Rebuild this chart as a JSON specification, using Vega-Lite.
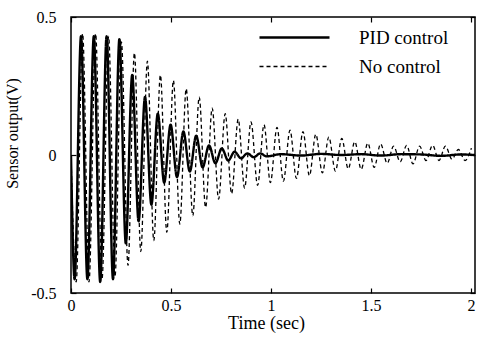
{
  "$schema": "https://vega.github.io/schema/vega-lite/v6.json",
  "width": 404,
  "height": 276,
  "autosize": {"type": "none"},
  "padding": {"left": 71, "top": 17, "right": 2, "bottom": 46},
  "background": "white",
  "config": {
    "view": {"stroke": "black", "strokeWidth": 1.5},
    "font": "Liberation Serif",
    "axis": {"grid": false, "domain": false, "labelFont": "Liberation Serif", "titleFont": "Liberation Serif", "labelColor": "black", "titleColor": "black", "tickColor": "black", "tickWidth": 1.2, "titleFontWeight": "normal", "labelFontSize": 16, "titleFontSize": 18, "labelFlush": false, "labelOverlap": false}
  },
  "layer": [
    {
      "data": {"values": [
        {"t": 0.000, "v": 0.0, "series": "PID control"},
        {"t": 0.018, "v": -0.45, "series": "PID control"},
        {"t": 0.050, "v": 0.43, "series": "PID control"},
        {"t": 0.082, "v": -0.45, "series": "PID control"},
        {"t": 0.114, "v": 0.43, "series": "PID control"},
        {"t": 0.146, "v": -0.46, "series": "PID control"},
        {"t": 0.178, "v": 0.43, "series": "PID control"},
        {"t": 0.210, "v": -0.45, "series": "PID control"},
        {"t": 0.242, "v": 0.42, "series": "PID control"},
        {"t": 0.274, "v": -0.32, "series": "PID control"},
        {"t": 0.306, "v": 0.29, "series": "PID control"},
        {"t": 0.338, "v": -0.24, "series": "PID control"},
        {"t": 0.370, "v": 0.21, "series": "PID control"},
        {"t": 0.402, "v": -0.18, "series": "PID control"},
        {"t": 0.434, "v": 0.15, "series": "PID control"},
        {"t": 0.466, "v": -0.10, "series": "PID control"},
        {"t": 0.498, "v": 0.11, "series": "PID control"},
        {"t": 0.530, "v": -0.08, "series": "PID control"},
        {"t": 0.562, "v": 0.085, "series": "PID control"},
        {"t": 0.594, "v": -0.06, "series": "PID control"},
        {"t": 0.626, "v": 0.07, "series": "PID control"},
        {"t": 0.658, "v": -0.045, "series": "PID control"},
        {"t": 0.690, "v": 0.035, "series": "PID control"},
        {"t": 0.722, "v": -0.03, "series": "PID control"},
        {"t": 0.754, "v": 0.024, "series": "PID control"},
        {"t": 0.786, "v": -0.02, "series": "PID control"},
        {"t": 0.818, "v": 0.012, "series": "PID control"},
        {"t": 0.850, "v": -0.012, "series": "PID control"},
        {"t": 0.882, "v": 0.006, "series": "PID control"},
        {"t": 0.914, "v": -0.008, "series": "PID control"},
        {"t": 0.946, "v": 0.006, "series": "PID control"},
        {"t": 0.978, "v": -0.005, "series": "PID control"},
        {"t": 1.050, "v": 0.003, "series": "PID control"},
        {"t": 1.150, "v": -0.002, "series": "PID control"},
        {"t": 1.250, "v": 0.004, "series": "PID control"},
        {"t": 1.350, "v": 0.0, "series": "PID control"},
        {"t": 1.450, "v": 0.003, "series": "PID control"},
        {"t": 1.550, "v": -0.002, "series": "PID control"},
        {"t": 1.650, "v": 0.003, "series": "PID control"},
        {"t": 1.750, "v": 0.002, "series": "PID control"},
        {"t": 1.850, "v": -0.003, "series": "PID control"},
        {"t": 1.950, "v": 0.002, "series": "PID control"},
        {"t": 2.020, "v": 0.0, "series": "PID control"},
        {"t": 0.000, "v": 0.0, "series": "No control"},
        {"t": 0.026, "v": -0.46, "series": "No control"},
        {"t": 0.058, "v": 0.44, "series": "No control"},
        {"t": 0.090, "v": -0.46, "series": "No control"},
        {"t": 0.123, "v": 0.44, "series": "No control"},
        {"t": 0.155, "v": -0.45, "series": "No control"},
        {"t": 0.188, "v": 0.43, "series": "No control"},
        {"t": 0.220, "v": -0.44, "series": "No control"},
        {"t": 0.252, "v": 0.41, "series": "No control"},
        {"t": 0.285, "v": -0.40, "series": "No control"},
        {"t": 0.317, "v": 0.37, "series": "No control"},
        {"t": 0.349, "v": -0.35, "series": "No control"},
        {"t": 0.382, "v": 0.34, "series": "No control"},
        {"t": 0.414, "v": -0.31, "series": "No control"},
        {"t": 0.447, "v": 0.29, "series": "No control"},
        {"t": 0.479, "v": -0.28, "series": "No control"},
        {"t": 0.512, "v": 0.27, "series": "No control"},
        {"t": 0.544, "v": -0.25, "series": "No control"},
        {"t": 0.576, "v": 0.24, "series": "No control"},
        {"t": 0.609, "v": -0.22, "series": "No control"},
        {"t": 0.641, "v": 0.21, "series": "No control"},
        {"t": 0.673, "v": -0.19, "series": "No control"},
        {"t": 0.706, "v": 0.17, "series": "No control"},
        {"t": 0.738, "v": -0.16, "series": "No control"},
        {"t": 0.771, "v": 0.15, "series": "No control"},
        {"t": 0.803, "v": -0.14, "series": "No control"},
        {"t": 0.836, "v": 0.13, "series": "No control"},
        {"t": 0.868, "v": -0.12, "series": "No control"},
        {"t": 0.900, "v": 0.12, "series": "No control"},
        {"t": 0.933, "v": -0.11, "series": "No control"},
        {"t": 0.965, "v": 0.11, "series": "No control"},
        {"t": 0.997, "v": -0.10, "series": "No control"},
        {"t": 1.030, "v": 0.10, "series": "No control"},
        {"t": 1.062, "v": -0.095, "series": "No control"},
        {"t": 1.095, "v": 0.09, "series": "No control"},
        {"t": 1.127, "v": -0.085, "series": "No control"},
        {"t": 1.160, "v": 0.085, "series": "No control"},
        {"t": 1.192, "v": -0.075, "series": "No control"},
        {"t": 1.224, "v": 0.075, "series": "No control"},
        {"t": 1.257, "v": -0.065, "series": "No control"},
        {"t": 1.289, "v": 0.065, "series": "No control"},
        {"t": 1.322, "v": -0.058, "series": "No control"},
        {"t": 1.354, "v": 0.06, "series": "No control"},
        {"t": 1.386, "v": -0.05, "series": "No control"},
        {"t": 1.419, "v": 0.048, "series": "No control"},
        {"t": 1.451, "v": -0.052, "series": "No control"},
        {"t": 1.484, "v": 0.043, "series": "No control"},
        {"t": 1.516, "v": -0.045, "series": "No control"},
        {"t": 1.548, "v": 0.04, "series": "No control"},
        {"t": 1.581, "v": -0.03, "series": "No control"},
        {"t": 1.613, "v": 0.032, "series": "No control"},
        {"t": 1.646, "v": -0.025, "series": "No control"},
        {"t": 1.678, "v": 0.035, "series": "No control"},
        {"t": 1.710, "v": -0.032, "series": "No control"},
        {"t": 1.743, "v": 0.032, "series": "No control"},
        {"t": 1.775, "v": -0.02, "series": "No control"},
        {"t": 1.808, "v": 0.035, "series": "No control"},
        {"t": 1.840, "v": -0.02, "series": "No control"},
        {"t": 1.872, "v": 0.032, "series": "No control"},
        {"t": 1.905, "v": -0.015, "series": "No control"},
        {"t": 1.937, "v": 0.02, "series": "No control"},
        {"t": 1.970, "v": -0.02, "series": "No control"},
        {"t": 2.002, "v": 0.025, "series": "No control"}
      ]},
      "mark": {"type": "line", "interpolate": "monotone", "color": "black", "clip": true},
      "encoding": {
        "x": {"field": "t", "type": "quantitative", "scale": {"domain": [0, 2.02], "nice": false, "zero": false},
          "axis": {"orient": "bottom", "values": [0, 0.5, 1, 1.5, 2], "format": "~g", "offset": -5, "tickSize": 5, "labelPadding": 4, "title": "Time  (sec)", "titlePadding": 1, "titleX": 195}},
        "y": {"field": "v", "type": "quantitative", "scale": {"domain": [-0.5, 0.5], "nice": false},
          "axis": {"orient": "left", "values": [-0.5, 0, 0.5], "offset": -5, "tickSize": 5, "labelPadding": 15, "title": "Sensor output(V)", "titleFontSize": 16, "titlePadding": 10, "titleY": 116,
            "labelExpr": "datum.value < 0 ? '-' + format(-datum.value, '~g') : format(datum.value, '~g')"}},
        "strokeDash": {"field": "series", "type": "nominal",
          "scale": {"domain": ["PID control", "No control"], "range": [[1, 0], [4, 3]]},
          "legend": {"title": null, "orient": "none", "legendX": 187, "legendY": 6, "symbolType": "stroke", "symbolSize": 4900, "symbolStrokeColor": "black", "symbolStrokeWidth": 1.5, "labelFontSize": 19, "labelFont": "Liberation Serif", "labelColor": "black", "labelOffset": 28, "rowPadding": 0, "clipHeight": 29, "labelLimit": 200}},
        "strokeWidth": {"field": "series", "type": "nominal",
          "scale": {"domain": ["PID control", "No control"], "range": [2.4, 1.3]}, "legend": null},
        "order": {"field": "series", "sort": "ascending"}
      }
    },
    {
      "data": {"values": []},
      "mark": {"type": "point", "opacity": 0},
      "encoding": {
        "x": {"field": "t", "type": "quantitative", "scale": {"domain": [0, 2.02], "nice": false, "zero": false},
          "axis": {"orient": "top", "values": [0, 0.5, 1, 1.5, 2], "offset": -5, "tickSize": 5, "labels": false, "title": null}},
        "y": {"field": "v", "type": "quantitative", "scale": {"domain": [-0.5, 0.5], "nice": false},
          "axis": {"orient": "right", "values": [-0.5, 0, 0.5], "offset": -5, "tickSize": 5, "labels": false, "title": null}}
      }
    }
  ],
  "resolve": {"axis": {"x": "independent", "y": "independent"}}
}
